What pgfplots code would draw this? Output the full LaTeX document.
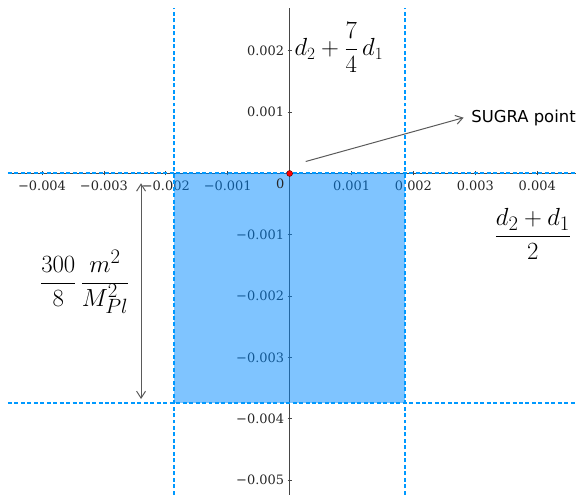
\documentclass[border=0pt]{standalone}
\usepackage{pgfplots}
\pgfplotsset{compat=1.18}
\usepackage{fontspec}
\setmainfont{DejaVu Serif}
\newfontfamily\labelsans{DejaVu Sans}
\usetikzlibrary{arrows.meta}
\definecolor{regionfill}{RGB}{0,137,255}
\definecolor{dashblue}{RGB}{0,153,255}
\definecolor{axisgray}{RGB}{70,70,70}
\definecolor{arrowgray}{RGB}{90,90,90}
\begin{document}
\begin{tikzpicture}
\begin{axis}[
    scale only axis,
    width=571pt, height=489pt,
    xmin=-0.00455, xmax=0.00463,
    ymin=-0.00524, ymax=0.0027,
    scaled ticks=false,
    axis lines=middle,
    axis line style={axisgray, line width=1pt, -},
    hide obscured x ticks=false,
    xtick={-0.004,-0.003,-0.002,-0.001,0.001,0.002,0.003,0.004},
    xticklabels={−0.004,−0.003,−0.002,−0.001,0.001,0.002,0.003,0.004},
    ytick={-0.005,-0.004,-0.003,-0.002,-0.001,0.001,0.002},
    yticklabels={−0.005,−0.004,−0.003,−0.002,−0.001,0.001,0.002},
    tick style={axisgray, line width=0.8pt},
    major tick length=4pt,
    ticklabel style={font=\fontsize{13}{15}\selectfont, text=black!85},
    xticklabel style={yshift=-2pt},
    unbounded coords=jump,
    clip=false,
]
% shaded region (translucent, so axis and labels show through)
\addplot[fill=regionfill, fill opacity=0.5, draw=none] coordinates {
    (-0.00187,0) (0.00187,0) (0.00187,-0.00375) (-0.00187,-0.00375)
} -- cycle;
% dashed boundaries, one path with jumps
\addplot[draw=dashblue, dash pattern=on 4pt off 2.5pt, line width=2.1pt] coordinates {
    (-0.00187,-0.00524) (-0.00187,0.0027) (nan,nan)
    (0.00187,-0.00524) (0.00187,0.0027) (nan,nan)
    (-0.00455,-0.00375) (0.00463,-0.00375) (nan,nan)
    (-0.00455,0) (0.00463,0)
};
% SUGRA point
\addplot[only marks, mark=*, mark size=3pt, mark options={fill=red, draw=black!70!red}] coordinates {(0,0)};
% arrows
\addplot[draw=arrowgray, line width=1pt, -{Straight Barb[length=7pt,width=9pt]}] coordinates {(0.00026,0.000195) (0.00281,0.00091)};
\addplot[draw=arrowgray, line width=1pt, {Straight Barb[length=7pt,width=9pt]}-{Straight Barb[length=7pt,width=9pt]}] coordinates {(-0.0024,-0.00016) (-0.0024,-0.00368)};
% labels
\node[anchor=west, font=\labelsans\fontsize{16.5}{18}\selectfont] at (axis cs:0.00288,0.00091) {SUGRA point};
\node[anchor=north east, font=\fontsize{13}{15}\selectfont, text=black!85, inner sep=2pt] at (axis cs:-0.00005,-0.00005) {0};
\node[anchor=west, font=\fontsize{27}{30}\selectfont, inner sep=1pt] at (axis cs:0.00006,0.00205) {$\displaystyle d_2+\frac{7}{4}\,d_1$};
\node[font=\fontsize{27.5}{30}\selectfont] at (axis cs:0.00393,-0.00099) {$\displaystyle\frac{d_2+d_1}{2}$};
\node[font=\fontsize{27.5}{30}\selectfont] at (axis cs:-0.00331,-0.00177) {$\displaystyle\frac{300}{8}\,\frac{m^2}{M_{Pl}^2}$};
% bounding margins
\path (rel axis cs:0,0) ++(-8pt,-2pt) (rel axis cs:1,1) ++(0pt,8pt);
\end{axis}
\end{tikzpicture}
\end{document}
